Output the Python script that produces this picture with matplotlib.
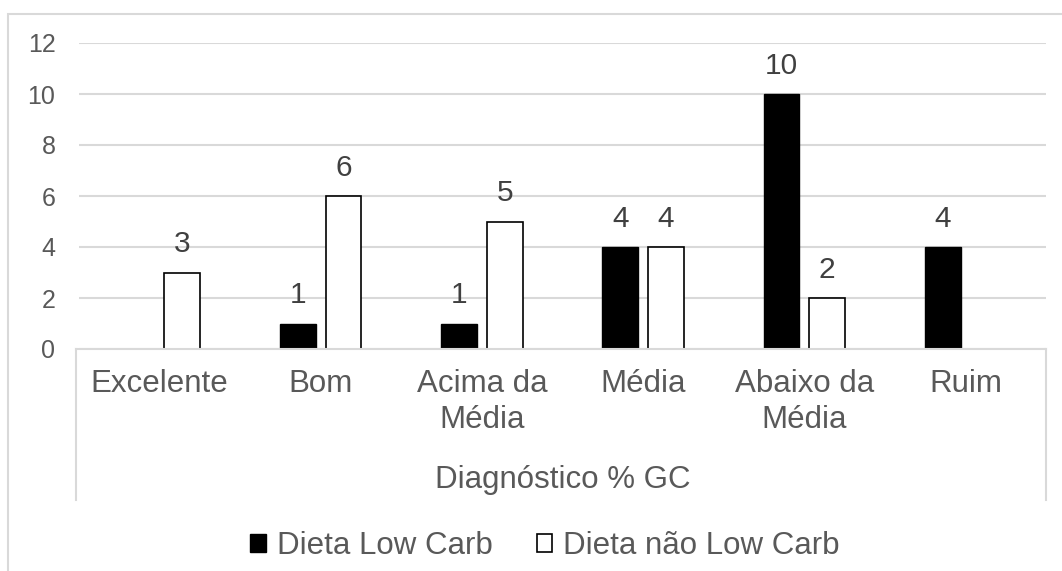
import matplotlib
matplotlib.use('Agg')
import matplotlib.pyplot as plt
from matplotlib.lines import Line2D
from matplotlib.patches import Patch, Rectangle
import numpy as np

categories = ['Excelente', 'Bom', 'Acima da\nMédia', 'Média', 'Abaixo da\nMédia', 'Ruim']
low_carb = [0, 1, 1, 4, 10, 4]
nao_low_carb = [3, 6, 5, 4, 2, 0]
series_names = ['Dieta Low Carb', 'Dieta não Low Carb']
axis_title = 'Diagnóstico % GC'
yticks = [0, 2, 4, 6, 8, 10, 12]

plt.rcParams['font.family'] = ['Liberation Sans', 'DejaVu Sans']
W, H = 1062, 571
grey = '#595959'
line_grey = '#d9d9d9'

fig = plt.figure(figsize=(W / 100, H / 100), dpi=100)
# plot area in pixels: x 79..1046, y 43..349
ax = fig.add_axes([79 / W, 1 - 349 / H, (1046 - 79) / W, (349 - 43) / H])

x = np.arange(len(categories))
width = 0.223
off = 0.141
b1 = ax.bar(x - off, low_carb, width, color='black', edgecolor='black', linewidth=1.0, zorder=3)
b2 = ax.bar(x + off, nao_low_carb, width, color='white', edgecolor='black', linewidth=1.2, zorder=3)

# data labels (zero values are not labelled)
for bars, vals in ((b1, low_carb), (b2, nao_low_carb)):
    for rect, v in zip(bars, vals):
        if v == 0:
            continue
        ax.annotate(str(v), (rect.get_x() + rect.get_width() / 2, v),
                    xytext=(0, 20.5), textcoords='offset points',
                    ha='center', va='center', fontsize=21.5, color='#404040')

ax.set_xlim(-0.5, len(categories) - 0.5)
ax.set_ylim(0, 12)
ax.set_yticks(yticks)
ax.tick_params(axis='y', length=0, pad=17, labelsize=18, labelcolor=grey)
ax.set_xticks([])
for s in ax.spines.values():
    s.set_visible(False)
ax.yaxis.grid(True, color=line_grey, linewidth=1.5, zorder=0)
ax.set_axisbelow(True)

# category labels
for i, c in enumerate(categories):
    ax.text(i, -0.065, c, transform=ax.get_xaxis_transform(), ha='center', va='top',
            fontsize=22.5, color=grey, linespacing=1.25)

fig.text(562.5 / W, 1 - 480 / H, axis_title, ha='center', va='center', fontsize=22.5, color=grey)

# axis line and category box sides
def px_line(xs, ys):
    fig.add_artist(Line2D([v / W for v in xs], [1 - v / H for v in ys],
                          transform=fig.transFigure, color=line_grey, linewidth=1.5))

px_line([76, 1046], [349, 349])
px_line([76, 76], [349, 500])
px_line([1046, 1046], [349, 500])

# outer chart border (cropped at right and bottom)
fig.add_artist(Rectangle((8 / W, -0.1), 1.2, 1 - 14 / H + 0.1, transform=fig.transFigure,
                         fill=False, edgecolor=line_grey, linewidth=1.5))

handles = [Patch(facecolor='black', edgecolor='black'),
           Patch(facecolor='white', edgecolor='black', linewidth=1.2)]
fig.legend(handles, series_names, loc='center', bbox_to_anchor=(545 / W, 1 - 546 / H),
           ncol=2, frameon=False, fontsize=22.5, labelcolor=grey,
           handlelength=0.5, handleheight=0.5, handletextpad=0.35, columnspacing=1.4,
           borderaxespad=0, borderpad=0)

fig.savefig('out.png', dpi=100)
